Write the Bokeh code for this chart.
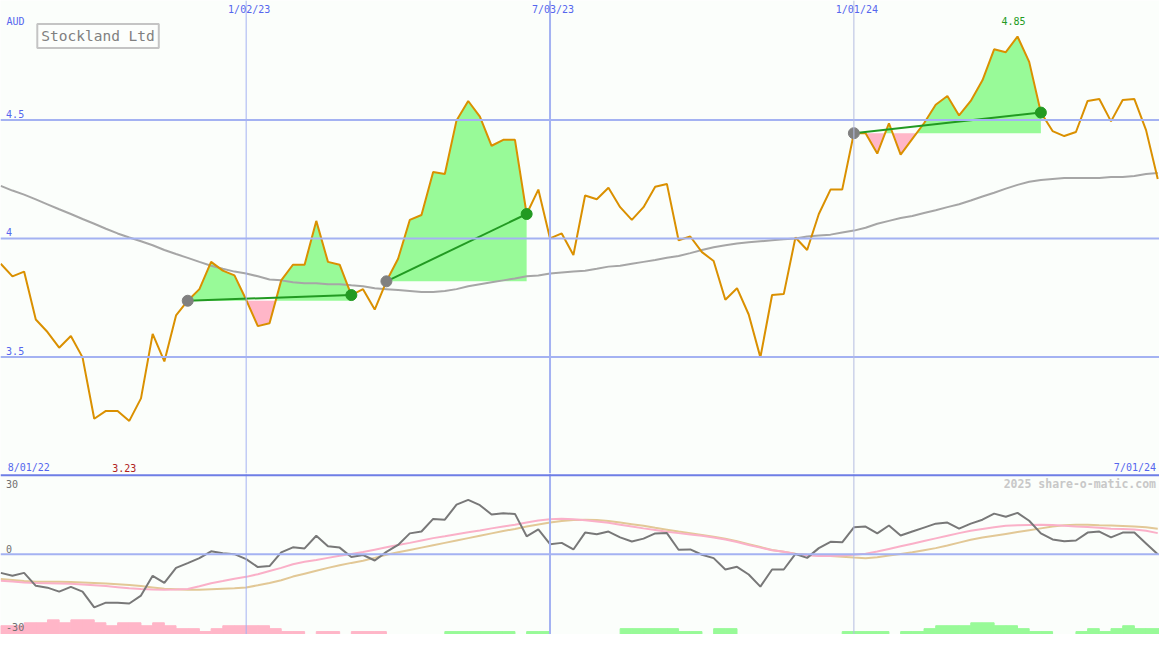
import numpy as np
import pandas as pd
from bokeh.plotting import figure
from bokeh.layouts import column
from bokeh.models import Range1d, Span, Label
from bokeh.embed import file_html
from bokeh.resources import INLINE

# ---------------- data ----------------
dates = pd.date_range("2022-08-08", periods=100, freq="7D")

price = [3.893, 3.840, 3.860, 3.658, 3.605, 3.539, 3.588, 3.498, 3.239, 3.272,
         3.272, 3.230, 3.325, 3.597, 3.481, 3.675, 3.737, 3.786, 3.901, 3.864,
         3.844, 3.741, 3.630, 3.642, 3.823, 3.889, 3.889, 4.074, 3.901, 3.889,
         3.761, 3.786, 3.700, 3.819, 3.914, 4.078, 4.099, 4.280, 4.272, 4.498,
         4.580, 4.514, 4.391, 4.416, 4.416, 4.103, 4.206, 4.000, 4.021, 3.930,
         4.181, 4.165, 4.214, 4.132, 4.078, 4.132, 4.218, 4.230, 3.992, 4.008,
         3.942, 3.905, 3.741, 3.790, 3.679, 3.498, 3.761, 3.765, 4.004, 3.951,
         4.103, 4.206, 4.206, 4.444, 4.444, 4.358, 4.486, 4.354, 4.420, 4.486,
         4.564, 4.601, 4.519, 4.580, 4.667, 4.798, 4.786, 4.852, 4.745, 4.531,
         4.453, 4.432, 4.449, 4.580, 4.588, 4.494, 4.584, 4.588, 4.457, 4.251]

moving_avg = [4.222, 4.202, 4.185, 4.165, 4.144, 4.123, 4.103, 4.082, 4.062, 4.041,
              4.021, 4.004, 3.988, 3.971, 3.951, 3.934, 3.918, 3.901, 3.885, 3.872,
              3.860, 3.852, 3.840, 3.827, 3.823, 3.815, 3.811, 3.811, 3.807, 3.807,
              3.802, 3.798, 3.790, 3.786, 3.782, 3.778, 3.774, 3.774, 3.778, 3.786,
              3.798, 3.807, 3.815, 3.823, 3.831, 3.840, 3.844, 3.852, 3.856, 3.860,
              3.864, 3.872, 3.881, 3.885, 3.893, 3.901, 3.909, 3.918, 3.926, 3.938,
              3.951, 3.963, 3.971, 3.979, 3.984, 3.988, 3.992, 3.996, 4.000, 4.008,
              4.012, 4.016, 4.025, 4.033, 4.045, 4.062, 4.074, 4.086, 4.095, 4.107,
              4.119, 4.132, 4.144, 4.160, 4.177, 4.193, 4.210, 4.226, 4.239, 4.247,
              4.251, 4.255, 4.255, 4.255, 4.255, 4.259, 4.259, 4.263, 4.272, 4.276]

oscillator = [-7.1, -8.2, -7.1, -12.0, -12.7, -14.2, -12.4, -14.2, -20.2, -18.4,
              -18.4, -18.7, -15.7, -8.2, -10.9, -5.2, -3.4, -1.5, 1.1, 0.4,
              0.0, -1.9, -4.9, -4.5, 0.7, 2.6, 2.2, 7.0, 3.0, 2.5,
              -1.1, -0.3, -2.4, 0.9, 3.5, 7.9, 8.6, 13.4, 13.1, 18.8,
              20.6, 18.6, 15.1, 15.5, 15.3, 6.8, 9.4, 3.8, 4.3, 1.8,
              8.2, 7.6, 8.6, 6.4, 4.8, 5.9, 7.9, 8.0, 1.7, 1.8,
              -0.2, -1.5, -5.8, -4.8, -7.7, -12.3, -5.8, -5.8, 0.1, -1.4,
              2.3, 4.7, 4.5, 10.2, 10.5, 7.9, 10.9, 7.1, 8.6, 10.1,
              11.6, 12.0, 9.7, 11.6, 13.1, 15.4, 14.2, 15.7, 12.7, 7.9,
              5.6, 4.9, 5.2, 8.2, 8.6, 6.4, 8.2, 8.2, 4.1, 0.0]

osc_fast = [-10.1, -10.4, -10.7, -10.9, -11.0, -11.1, -11.2, -11.5, -11.8, -12.1,
            -12.5, -12.9, -13.2, -13.4, -13.5, -13.4, -13.2, -12.2, -11.0, -10.2,
            -9.3, -8.6, -7.6, -6.4, -5.2, -3.8, -2.9, -2.2, -1.4, -0.6,
            0.1, 0.8, 1.7, 2.6, 3.5, 4.3, 5.2, 6.1, 6.8, 7.6,
            8.3, 9.0, 9.8, 10.5, 11.2, 12.0, 12.8, 13.3, 13.5, 13.3,
            12.9, 12.4, 11.9, 11.2, 10.5, 9.8, 9.2, 8.5, 8.0, 7.5,
            7.0, 6.3, 5.6, 4.6, 3.5, 2.5, 1.5, 0.9, 0.1, -0.4,
            -0.7, -0.7, -0.5, -0.2, 0.2, 1.0, 2.0, 3.0, 4.0, 5.0,
            6.0, 7.0, 8.0, 8.9, 9.6, 10.2, 10.8, 11.0, 11.1, 11.2,
            11.1, 10.8, 10.5, 10.3, 10.0, 9.7, 9.6, 9.4, 8.9, 8.0]

osc_slow = [-9.4, -9.8, -10.2, -10.5, -10.5, -10.5, -10.6, -10.7, -10.9, -11.1,
            -11.4, -11.7, -12.1, -12.6, -13.1, -13.3, -13.5, -13.5, -13.3, -13.1,
            -12.9, -12.6, -11.8, -10.9, -9.9, -8.5, -7.4, -6.3, -5.2, -4.2,
            -3.3, -2.5, -1.4, -0.2, 0.7, 1.6, 2.5, 3.4, 4.3, 5.2,
            6.1, 7.0, 7.9, 8.8, 9.6, 10.5, 11.3, 12.0, 12.6, 13.0,
            13.1, 13.0, 12.6, 12.0, 11.4, 10.8, 10.0, 9.3, 8.6, 8.0,
            7.3, 6.6, 5.9, 4.9, 3.8, 2.7, 1.6, 0.9, 0.2, -0.2,
            -0.5, -0.7, -1.0, -1.3, -1.5, -1.2, -0.5, 0.1, 0.7, 1.5,
            2.3, 3.3, 4.4, 5.5, 6.3, 7.0, 7.7, 8.4, 9.1, 9.8,
            10.5, 11.0, 11.2, 11.2, 11.0, 10.9, 10.7, 10.5, 10.2, 9.7]

bar_levels = [-3, -3, -4, -4, -5, -4, -5, -5, -4, -3,
              -4, -4, -3, -4, -3, -2, -2, -1, -2, -3,
              -3, -3, -3, -2, -1, -1, 0, -1, -1, 0,
              -1, -1, -1, 0, 0, 0, 0, 0, 1, 1,
              1, 1, 1, 1, 0, 1, 1, 0, 0, 0,
              0, 0, 0, 2, 2, 2, 2, 2, 1, 1,
              0, 2, 2, 0, 0, 0, 0, 0, 0, 0,
              0, 0, 1, 1, 1, 1, 0, 1, 1, 2,
              3, 3, 3, 4, 4, 3, 3, 2, 1, 1,
              0, 0, 1, 2, 1, 2, 3, 2, 2, 2]

trend_segments = [(16, 30), (33, 45), (73, 89)]
price_ticks = [3.5, 4.0, 4.5]
price_tick_labels = ["3.5", "4", "4.5"]
osc_ticks = [30, 0, -30]
osc_tick_labels = ["30", "0", "-30"]
date_marks = ["2023-01-02", "2023-07-03", "2024-01-01"]
date_mark_labels = ["1/02/23", "7/03/23", "1/01/24"]
date_mark_widths = [1, 2, 1]
date_mark_colors = ["#A4B2F2", "#A4B2F2", "#B4BCE0"]
title = "Stockland Ltd"

# ---------------- style ----------------
W, H_TOP, H_BOT = 1159, 473, 161
BG = "#FBFEFB"
GRID = "#A4B2F2"
BLUE_TXT = "#5566EE"
FONT = "DejaVu Sans Mono"
PRICE_C = "#DA9000"
MA_C = "#A6A6A6"
GREEN_FILL = "#98FA98"
PINK_FILL = "#FFB6C8"
TREND_C = "#229A22"
WEEK = 7 * 24 * 3600 * 1000

xs = np.array([d.timestamp() * 1000 for d in dates])
pr = np.array(price)
x_range = Range1d(start=xs[0] - 0.02 * WEEK, end=xs[0] + 99.15 * WEEK)


def make_fig(h, y0, y1):
    f = figure(width=W, height=h, x_range=x_range, y_range=Range1d(y0, y1),
               x_axis_location=None, y_axis_location=None, toolbar_location=None,
               output_backend="svg", min_border=0, background_fill_color=BG,
               border_fill_color=BG, outline_line_color=None)
    f.grid.visible = False
    return f


# ---------------- top panel ----------------
p = make_fig(H_TOP, 3.008, 5.004)
for t in price_ticks:
    p.add_layout(Span(location=t, dimension="width", line_color=GRID, line_width=2))
for d, w, c in zip(date_marks, date_mark_widths, date_mark_colors):
    p.add_layout(Span(location=pd.Timestamp(d).timestamp() * 1000, dimension="height",
                      line_color=c, line_width=w))

for a, b in trend_segments:
    L = pr[a]
    fx, fy = [], []
    for i in range(a, b + 1):
        if i > a:
            d0, d1 = pr[i - 1] - L, pr[i] - L
            if d0 * d1 < 0:
                t = d0 / (d0 - d1)
                fx.append(xs[i - 1] + t * (xs[i] - xs[i - 1]))
                fy.append(L)
        fx.append(xs[i])
        fy.append(pr[i])
    fx, fy = np.array(fx), np.array(fy)
    p.varea(x=fx, y1=np.full(len(fx), L), y2=np.maximum(fy, L), color=GREEN_FILL)
    p.varea(x=fx, y1=np.full(len(fx), L), y2=np.minimum(fy, L), color=PINK_FILL)

p.line(xs, moving_avg, line_color=MA_C, line_width=2)
p.line(xs, pr, line_color=PRICE_C, line_width=2)
for a, b in trend_segments:
    p.line([xs[a], xs[b]], [pr[a], pr[b]], line_color=TREND_C, line_width=2)
    p.scatter([xs[a]], [pr[a]], size=11, color="#808080")
    p.scatter([xs[b]], [pr[b]], size=11, color=TREND_C)

for t, lab in zip(price_ticks, price_tick_labels):
    p.add_layout(Label(x=5.6, y=t, x_units="screen", text=lab, y_offset=6,
                       text_font=FONT, text_font_size="10px", text_color=BLUE_TXT,
                       text_baseline="middle"))
p.add_layout(Label(x=5.9, y=452, x_units="screen", y_units="screen", text="AUD",
                   text_font=FONT, text_font_size="10px", text_color=BLUE_TXT,
                   text_baseline="middle"))
for d, lab in zip(date_marks, date_mark_labels):
    p.add_layout(Label(x=pd.Timestamp(d).timestamp() * 1000, y=464, y_units="screen",
                       x_offset=3, text=lab, text_font=FONT, text_font_size="10px",
                       text_color=BLUE_TXT, text_baseline="middle", text_align="center"))
p.add_layout(Label(x=7.2, y=5.9, x_units="screen", y_units="screen",
                   text="8/01/22", text_font=FONT,
                   text_font_size="10px", text_color=BLUE_TXT, text_baseline="middle"))
p.add_layout(Label(x=1155.5, y=5.9, x_units="screen", y_units="screen",
                   text="7/01/24", text_font=FONT, text_font_size="10px",
                   text_color=BLUE_TXT, text_baseline="middle", text_align="right"))
imin = int(np.argmin(pr))
imax = int(np.argmax(pr))
p.add_layout(Label(x=xs[imin], y=5.9, y_units="screen", x_offset=-5,
                   text=f"{pr[imin]:.2f}", text_font=FONT, text_font_size="10px",
                   text_color="#B02222", text_baseline="middle", text_align="center"))
p.add_layout(Label(x=xs[imax], y=452.5, y_units="screen", x_offset=-4,
                   text=f"{pr[imax]:.2f}", text_font=FONT, text_font_size="10px",
                   text_color=TREND_C, text_baseline="middle", text_align="center"))
p.add_layout(Label(x=36.8, y=437.5, x_units="screen", y_units="screen", text=title,
                   text_font=FONT, text_font_size="14.5px", text_color="#808080",
                   text_baseline="middle", background_fill_color="#FCFEFC",
                   border_line_color="#C4C4C4", border_line_width=2, padding=4))

# ---------------- bottom panel ----------------
q = make_fig(H_BOT, -30.48, 30.63)
LEVEL_H = 1.111
lv = np.array(bar_levels)
nz = lv != 0
q.quad(left=xs[nz], right=xs[nz] + WEEK, bottom=-30.48,
       top=-30.48 + np.abs(lv[nz]) * LEVEL_H,
       color=[PINK_FILL if v < 0 else GREEN_FILL for v in lv[nz]])
for d, w, c in zip(date_marks, date_mark_widths, date_mark_colors):
    q.add_layout(Span(location=pd.Timestamp(d).timestamp() * 1000, dimension="height",
                      line_color=c, line_width=w))
q.add_layout(Span(location=0, dimension="width", line_color=GRID, line_width=2))
q.add_layout(Span(location=30, dimension="width", line_color="#6E7EE6", line_width=2))
q.line(xs, osc_slow, line_color="#E2C896", line_width=2)
q.line(xs, osc_fast, line_color="#FAB0C8", line_width=2)
q.line(xs, oscillator, line_color="#787878", line_width=2)

for t, lab, off in zip(osc_ticks, osc_tick_labels, [-9, 5.6, 6.3]):
    q.add_layout(Label(x=5.6, y=t, x_units="screen", text=lab, y_offset=off,
                       text_font=FONT, text_font_size="10px", text_color="#707070",
                       text_baseline="middle"))
q.add_layout(Label(x=1155.5, y=150.3, x_units="screen", y_units="screen",
                   text="2025 share-o-matic.com", text_font=FONT,
                   text_font_size="11.5px", text_font_style="bold",
                   text_color="#C8C8C8", text_baseline="middle", text_align="right"))

layout = column(p, q, spacing=0)
open("out.html", "w").write(file_html(layout, INLINE))
